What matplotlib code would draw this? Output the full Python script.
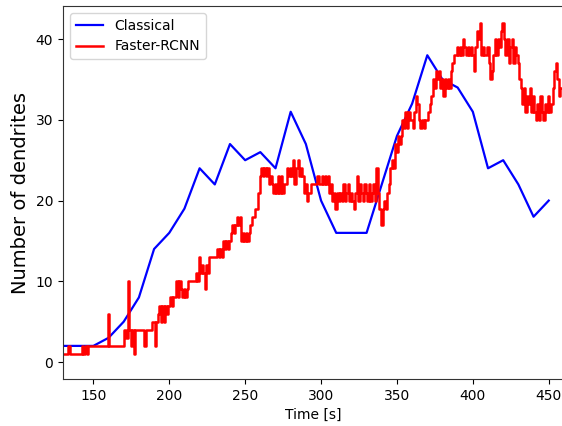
import numpy as np
import matplotlib
matplotlib.use("Agg")
import matplotlib.pyplot as plt

# Classical detection (every 10 s)
t_classical = [130, 140, 150, 160, 170, 180, 190, 200, 210, 220, 230, 240, 250,
               260, 270, 280, 290, 300, 310, 320, 330, 340, 350, 360, 370, 380,
               390, 400, 410, 420, 430, 440, 450]
n_classical = [2, 2, 2, 3, 5, 8, 14, 16, 19, 24, 22, 27, 25,
               26, 24, 31, 27, 20, 16, 16, 16, 22, 28, 32, 38, 35,
               34, 31, 24, 25, 22, 18, 20]

# Faster-RCNN detection (every second from 130 s)
t_rcnn = np.arange(130, 459)
n_rcnn = [
    1, 1, 1, 1, 2, 1, 1, 1, 1, 1,
    1, 1, 1, 2, 1, 2, 1, 2, 2, 2,
    2, 2, 2, 2, 2, 2, 2, 2, 2, 2,
    6, 2, 2, 2, 2, 2, 2, 2, 2, 2,
    2, 4, 3, 10, 4, 2, 4, 1, 4, 4,
    4, 4, 4, 4, 2, 4, 4, 4, 4, 5,
    5, 2, 5, 6, 7, 5, 7, 5, 7, 6,
    7, 8, 7, 8, 8, 10, 8, 10, 9, 8,
    9, 8, 9, 10, 10, 10, 10, 10, 11, 10,
    13, 11, 12, 11, 9, 12, 11, 13, 13, 13,
    13, 13, 14, 13, 14, 13, 15, 14, 15, 14,
    15, 16, 17, 16, 17, 18, 17, 18, 15, 16,
    15, 16, 15, 16, 17, 18, 18, 19, 19, 21,
    23, 24, 23, 24, 23, 24, 22, 23, 22, 21,
    22, 21, 23, 21, 23, 21, 22, 22, 24, 23,
    24, 23, 25, 22, 24, 25, 23, 24, 23, 21,
    22, 20, 21, 21, 22, 22, 22, 22, 23, 22,
    22, 23, 22, 23, 22, 23, 21, 22, 20, 21,
    19, 21, 20, 21, 20, 22, 20, 21, 22, 20,
    21, 20, 19, 21, 23, 20, 22, 21, 20, 22,
    21, 20, 22, 20, 21, 22, 20, 24, 21, 19,
    17, 19, 20, 19, 21, 22, 24, 25, 24, 27,
    26, 28, 27, 28, 30, 29, 31, 29, 31, 30,
    30, 29, 31, 33, 32, 30, 29, 30, 29, 30,
    30, 31, 32, 33, 35, 34, 36, 35, 36, 34,
    35, 33, 35, 34, 35, 34, 36, 37, 38, 38,
    39, 38, 39, 38, 40, 39, 38, 39, 38, 39,
    38, 36, 39, 41, 40, 42, 38, 39, 38, 38,
    39, 37, 35, 36, 38, 40, 38, 40, 39, 41,
    42, 40, 38, 40, 37, 39, 40, 37, 39, 38,
    37, 35, 34, 32, 34, 31, 33, 32, 34, 31,
    33, 31, 30, 32, 30, 33, 31, 30, 32, 31,
    33, 31, 32, 34, 36, 37, 35, 33, 34,
]

fig = plt.figure(figsize=(5.62, 4.26), dpi=100)
ax = fig.add_axes([63 / 562, 47 / 426, 500 / 562, 373 / 426])
ax.plot(t_classical, n_classical, color="#0000ff", lw=1.6, label="Classical")
ax.plot(t_rcnn, n_rcnn, color="#ff0000", lw=1.8, drawstyle="steps-mid",
        label="Faster-RCNN")
ax.set_xlim(130, 459.4)
ax.set_ylim(-2.1, 44.1)
ax.set_xticks([150, 200, 250, 300, 350, 400, 450])
ax.set_yticks([0, 10, 20, 30, 40])
ax.tick_params(labelsize=10)
for s in ax.spines.values():
    s.set_color("#333333")
ax.set_xlabel("Time [s]", fontsize=10)
ax.set_ylabel("Number of dendrites", fontsize=14)
ax.legend(loc="upper left", fontsize=10)
fig.savefig("out.png", dpi=100)
